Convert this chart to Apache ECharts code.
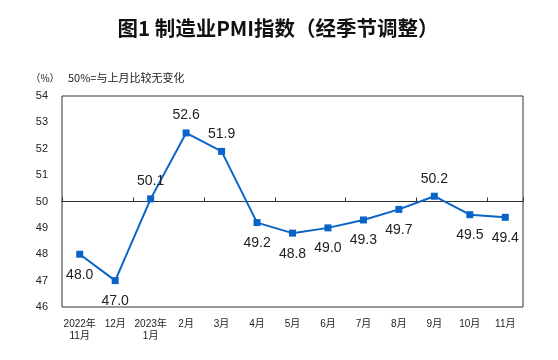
<!DOCTYPE html>
<html><head><meta charset="utf-8">
<script src="https://cdn.jsdelivr.net/npm/echarts@6/dist/echarts.min.js"></script>
<style>html,body{margin:0;padding:0;background:#fff}#c{width:558px;height:360px}</style>
</head><body><div id="c"></div>
<script>
const categories = ['2022年\n11月','12月','2023年\n1月','2月','3月','4月','5月','6月','7月','8月','9月','10月','11月'];
const pmiValues = [48.0, 47.0, 50.1, 52.6, 51.9, 49.2, 48.8, 49.0, 49.3, 49.7, 50.2, 49.5, 49.4];
const yMin = 46, yMax = 54, yStep = 1, baseLine = 50;
const titleText = '图1 制造业PMI指数（经季节调整）';
const unitText = '（%）';
const noteText = '50%=与上月比较无变化';

const FONT = '"Liberation Sans", "Noto Sans CJK SC", sans-serif';
const chart = echarts.init(document.getElementById('c'), null, {renderer: 'canvas'});
const gridTop = 96, gridH = 211;
const baseOffset = -gridH * (baseLine - yMin) / (yMax - yMin);

chart.setOption({
  animation: false,
  backgroundColor: '#fff',
  graphic: [
    {type: 'text', x: 278, y: 28, style: {text: titleText, font: 'bold 20.5px "Noto Sans CJK SC", sans-serif', fill: '#111', align: 'center', verticalAlign: 'middle'}},
    {type: 'text', x: 45, y: 78, style: {text: unitText, font: '10px "Noto Sans CJK SC", sans-serif', fill: '#222', align: 'center', verticalAlign: 'middle'}},
    {type: 'text', x: 68, y: 78, style: {text: noteText, font: '11px "Noto Sans CJK SC", sans-serif', fill: '#222', align: 'left', verticalAlign: 'middle'}}
  ],
  grid: {left: 62, right: 35, top: gridTop, height: gridH, show: true, borderColor: '#333', borderWidth: 1, backgroundColor: 'transparent'},
  xAxis: [
    {type: 'category', data: categories, boundaryGap: true, position: 'bottom',
     axisLine: {show: false}, axisTick: {show: false},
     axisLabel: {fontSize: 10, color: '#222', fontFamily: FONT, margin: 11, lineHeight: 12, interval: 0}},
    {type: 'category', data: categories, boundaryGap: true, position: 'bottom', offset: baseOffset,
     axisLine: {show: true, lineStyle: {color: '#333', width: 1}},
     axisTick: {show: true, inside: true, length: 4, lineStyle: {color: '#333'}},
     axisLabel: {show: false}}
  ],
  yAxis: {type: 'value', min: yMin, max: yMax, interval: yStep,
    axisLine: {show: false}, axisTick: {show: false}, splitLine: {show: false},
    axisLabel: {fontSize: 11, color: '#222', fontFamily: FONT, margin: 14}},
  series: [{
    type: 'line', xAxisIndex: 0,
    data: pmiValues.map(v => ({value: v, label: {position: v > baseLine ? 'top' : 'bottom', distance: v > baseLine ? 7 : 10}})),
    symbol: 'rect', symbolSize: 7,
    lineStyle: {color: '#0a64c8', width: 2},
    itemStyle: {color: '#0a64c8'},
    label: {show: true, fontSize: 14, color: '#222', fontFamily: FONT,
      formatter: p => p.value.toFixed(1)}
  }]
});
</script></body></html>
